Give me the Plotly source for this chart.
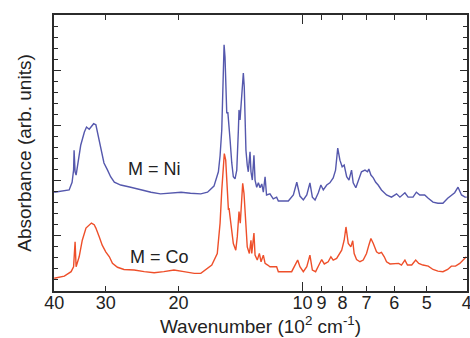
import math
import plotly.graph_objects as go

# Wavenumber (10^2 cm^-1) and absorbance (arb. units)
ni_wavenumber = [40.0, 38.3, 36.8, 36.2, 35.9, 35.8, 35.6, 35.4, 34.5, 33.8, 33.4, 32.9, 32.1, 31.7, 31.4,
                 30.8, 30.3, 29.7, 29.2, 28.6, 27.6, 26.1, 24.7, 23.3, 22.1, 20.9, 19.7, 18.7, 17.65, 17.0,
                 16.4, 16.0, 15.85, 15.7, 15.65, 15.56, 15.5, 15.42, 15.33, 15.27, 15.18, 15.13, 14.99, 14.85,
                 14.72, 14.58, 14.44, 14.31, 14.26, 14.18, 14.05, 13.92, 13.85, 13.79, 13.72, 13.62, 13.54,
                 13.41, 13.34, 13.24, 13.12, 13.04, 12.92, 12.80, 12.68, 12.56, 12.45, 12.33, 12.23, 12.00,
                 11.78, 11.56, 11.45, 10.83, 10.53, 10.33, 10.15, 9.96, 9.77, 9.60, 9.47, 9.33, 9.16, 9.03,
                 8.91, 8.74, 8.59, 8.43, 8.32, 8.22, 8.12, 8.02, 7.93, 7.82, 7.72, 7.61, 7.54, 7.43, 7.30,
                 7.20, 7.06, 6.96, 6.91, 6.83, 6.74, 6.65, 6.56, 6.44, 6.26, 6.09, 5.92, 5.81, 5.65, 5.55,
                 5.40, 5.30, 5.20, 5.06, 4.96, 4.83, 4.70, 4.57, 4.45, 4.36, 4.28, 4.20, 4.12, 4.04, 4.0]
ni_absorbance = [1.79, 1.81, 1.83, 1.97, 2.19, 2.55, 2.16, 2.10, 2.64, 2.88, 2.97, 2.93, 3.03, 3.01, 2.86,
                 2.55, 2.32, 2.19, 2.07, 1.97, 1.92, 1.88, 1.83, 1.79, 1.76, 1.78, 1.79, 1.77, 1.76, 1.79,
                 1.90, 2.16, 2.45, 2.92, 3.41, 3.95, 4.46, 4.24, 3.64, 3.22, 3.24, 3.13, 2.74, 2.32,
                 2.07, 2.03, 2.19, 2.92, 3.28, 3.10, 3.51, 3.95, 3.70, 3.04, 2.55, 2.28, 2.16,
                 2.52, 2.16, 2.01, 2.46, 2.01, 1.88, 1.96, 1.87, 1.94, 1.79, 2.07, 1.74, 1.76,
                 1.67, 1.70, 1.63, 1.63, 1.74, 1.97, 1.72, 1.65, 1.74, 1.96, 1.70, 1.65, 1.78, 1.92,
                 1.83, 1.92, 1.96, 2.05, 2.19, 2.59, 2.37, 2.25, 2.28, 2.07, 2.01, 2.19, 1.96, 1.87, 2.05,
                 2.16, 2.19, 2.16, 2.21, 2.10, 2.05, 1.97, 1.92, 1.83, 1.74, 1.70, 1.76, 1.70, 1.78, 1.70,
                 1.70, 1.79, 1.74, 1.74, 1.68, 1.61, 1.59, 1.59, 1.68, 1.74, 1.78, 1.88, 1.74, 1.70, 1.70]

co_wavenumber = [40.0, 37.8, 36.4, 35.9, 35.6, 35.4, 34.8, 34.2, 33.5, 32.9, 32.5, 32.0, 31.7, 31.1, 30.6,
                 30.0, 29.4, 28.9, 28.1, 27.1, 25.6, 24.2, 22.9, 21.7, 20.5, 19.4, 18.3, 17.65, 17.2, 16.6,
                 16.1, 15.85, 15.7, 15.56, 15.48, 15.36, 15.27, 15.13, 15.08, 14.91, 14.72, 14.52, 14.40,
                 14.26, 14.16, 14.05, 13.97, 13.87, 13.74, 13.62, 13.46, 13.34, 13.28, 13.12, 13.04, 12.88,
                 12.73, 12.61, 12.45, 12.33, 12.15, 12.0, 11.78, 11.56, 11.45, 10.63, 10.43, 10.28, 10.15,
                 9.96, 9.77, 9.60, 9.47, 9.30, 9.13, 8.99, 8.86, 8.67, 8.54, 8.43, 8.27, 8.04, 7.93, 7.85,
                 7.75, 7.64, 7.56, 7.50, 7.40, 7.26, 7.13, 7.00, 6.91, 6.83, 6.74, 6.62, 6.53, 6.44, 6.34,
                 6.26, 6.14, 5.98, 5.85, 5.76, 5.65, 5.57, 5.44, 5.32, 5.23, 5.11, 4.96, 4.83, 4.70, 4.57,
                 4.45, 4.36, 4.26, 4.16, 4.08, 4.01]
co_absorbance = [0.23, 0.27, 0.35, 0.44, 0.89, 0.44, 0.62, 0.92, 1.14, 1.20, 1.23, 1.20, 1.14, 0.98, 0.83,
                 0.71, 0.62, 0.50, 0.43, 0.39, 0.38, 0.35, 0.33, 0.35, 0.38, 0.35, 0.32, 0.32, 0.38, 0.47,
                 0.68, 1.23, 1.83, 2.31, 2.49, 2.37, 1.95, 1.47, 1.50, 1.16, 0.86, 0.74, 0.98,
                 1.44, 1.23, 1.65, 1.95, 1.77, 1.23, 0.80, 0.68, 0.92, 0.68, 1.05, 0.65, 0.56,
                 0.68, 0.53, 0.65, 0.50, 0.47, 0.44, 0.44, 0.44, 0.35, 0.35, 0.47, 0.56, 0.44,
                 0.35, 0.44, 0.65, 0.38, 0.35, 0.47, 0.57, 0.49, 0.53, 0.62, 0.56, 0.59, 0.74, 0.92, 1.16,
                 0.86, 0.80, 0.91, 0.68, 0.57, 0.53, 0.56, 0.68, 0.83, 0.95, 0.86, 0.71, 0.68, 0.70, 0.62,
                 0.53, 0.49, 0.49, 0.50, 0.47, 0.56, 0.47, 0.47, 0.56, 0.50, 0.47, 0.45, 0.39, 0.36, 0.35,
                 0.39, 0.45, 0.45, 0.50, 0.56, 0.62]

x_tick_values = [40, 30, 20, 10, 9, 8, 7, 6, 5, 4]
x_tick_labels = ["40", "30", "20", "10", "9", "8", "7", "6", "5", "4"]
series_labels = ["M = Ni", "M = Co"]
label_wavenumber = [22.8, 22.2]
label_absorbance = [2.21, 0.62]

FONT = "Liberation Sans, Arial, Helvetica, sans-serif"
AXIS_COLOR = "#2b2b2b"
TEXT_COLOR = "#222222"
NI_COLOR = "#5558ad"
CO_COLOR = "#ee4f2a"

fig = go.Figure()
fig.add_trace(go.Scatter(x=ni_wavenumber, y=ni_absorbance, mode="lines",
                         line=dict(color=NI_COLOR, width=1.4), name=series_labels[0], showlegend=False))
fig.add_trace(go.Scatter(x=co_wavenumber, y=co_absorbance, mode="lines",
                         line=dict(color=CO_COLOR, width=1.4), name=series_labels[1], showlegend=False))
# invisible trace carrying the overlay axis that draws the longer tick at 10
fig.add_trace(go.Scatter(x=[10], y=[2], xaxis="x2", mode="markers", marker=dict(opacity=0),
                         showlegend=False, hoverinfo="skip"))

xrange = [math.log10(40) + 0.0005, math.log10(4) - 0.0005]
fig.update_layout(
    width=470, height=338,
    margin=dict(l=54, r=3, t=15, b=47, autoexpand=False),
    paper_bgcolor="white", plot_bgcolor="white",
    font=dict(family=FONT, color=TEXT_COLOR, size=17),
    xaxis=dict(type="log", range=xrange, tickmode="array", tickvals=x_tick_values, ticktext=x_tick_labels,
               ticks="inside", ticklen=5, tickwidth=1.3, tickcolor=AXIS_COLOR, automargin=False,
               showline=True, linecolor=AXIS_COLOR, linewidth=1.5, mirror="ticks",
               showgrid=False, zeroline=False, tickfont=dict(size=18), ticklabelstandoff=-5,
               ticklabeloverflow="allow",
               title=dict(text="Wavenumber (10<sup>2</sup> cm<sup>-1</sup>)", font=dict(size=19), standoff=4)),
    xaxis2=dict(type="log", range=xrange, overlaying="x", anchor="y", tickmode="array", tickvals=[10],
                ticks="inside", ticklen=9, tickwidth=1.3, tickcolor=AXIS_COLOR, showticklabels=False,
                showline=False, mirror="ticks", showgrid=False, zeroline=False, side="bottom",
                automargin=False),
    yaxis=dict(range=[0, 5], tickmode="linear", tick0=0, dtick=1, ticks="inside", ticklen=7,
               tickwidth=1.3, tickcolor=AXIS_COLOR, showticklabels=False, automargin=False,
               minor=dict(dtick=0.2, tick0=0, ticks="inside", ticklen=4, tickwidth=1.2, tickcolor=AXIS_COLOR),
               showline=True, linecolor=AXIS_COLOR, linewidth=1.5, mirror="ticks",
               showgrid=False, zeroline=False,
               title=dict(text="Absorbance (arb. units)", font=dict(size=19), standoff=16)),
)

for name, wn, ab in zip(series_labels, label_wavenumber, label_absorbance):
    fig.add_annotation(x=math.log10(wn), y=ab, xref="x", yref="y", text=name, showarrow=False,
                       font=dict(size=18, color=TEXT_COLOR), xanchor="center", yanchor="middle")

fig.write_html("out.html", config={"displayModeBar": False},
               post_script="document.body.style.margin='0';document.body.style.overflow='hidden';")
